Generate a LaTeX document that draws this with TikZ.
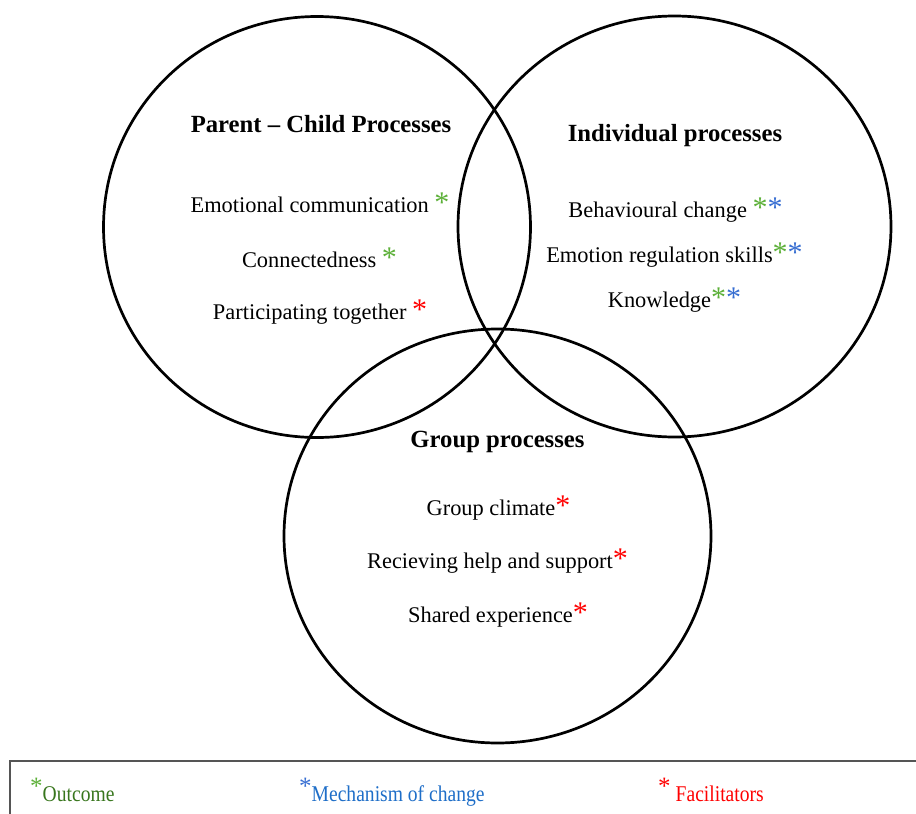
\documentclass[tikz,border=0pt]{standalone}
\usepackage{fontspec}
\setmainfont{Liberation Serif}
\usetikzlibrary{shapes.geometric}
\definecolor{astgreen}{RGB}{92,176,56}
\definecolor{astblue}{RGB}{55,110,210}
\definecolor{astred}{RGB}{255,0,0}
\definecolor{outgreen}{RGB}{56,118,29}
\definecolor{mechblue}{RGB}{30,110,200}
\definecolor{boxgray}{RGB}{85,85,85}
\newcommand{\astG}{{\fontsize{30}{30}\selectfont\textcolor{astgreen}{*}}}
\newcommand{\astB}{{\fontsize{30}{30}\selectfont\textcolor{astblue}{*}}}
\newcommand{\astR}{{\fontsize{30}{30}\selectfont\textcolor{astred}{*}}}
\newcommand{\legAst}[1]{\raisebox{6.5pt}{\fontsize{25}{25}\selectfont\textcolor{#1}{*}}}
\begin{document}
\begin{tikzpicture}[x=1pt,y=-1pt,
  ring/.style={draw=black, line width=2.7pt, ellipse, inner sep=0pt, outer sep=0pt},
  titletext/.style={anchor=base, inner sep=0pt, font=\fontsize{24.7}{28}\selectfont\bfseries},
  itemtext/.style={anchor=base, inner sep=0pt, font=\fontsize{22.4}{27}\selectfont},
  legendtext/.style={anchor=base west, inner sep=0pt, font=\fontsize{22.5}{27}\selectfont},
  legendbox/.style={draw=boxgray, line width=2pt}]
\useasboundingbox (0,0) rectangle (916,814);
\fill[white] (0,0) rectangle (916,814);

% circles
\node[ring, minimum width=427pt, minimum height=421pt] (pc) at (317,227) {};
\node[ring, minimum width=433pt, minimum height=421pt] (ind) at (674.5,226.5) {};
\node[ring, minimum width=427pt, minimum height=414pt] (grp) at (497.5,536) {};

% Parent-Child
\node[titletext] (pct) at (321,132) {Parent -- Child Processes};
\node[itemtext] (pc1) at (320,212) {Emotional communication \astG};
\node[itemtext] (pc2) at (319.5,267) {Connectedness \astG};
\node[itemtext] (pc3) at (320,319.5) {Participating together \astR};

% Individual
\node[titletext] (indt) at (675,141.5) {Individual processes};
\node[itemtext] (ind1) at (675.5,217) {Behavioural change \astG\astB};
\node[itemtext] (ind2) at (674.5,262) {Emotion regulation skills\astG\astB};
\node[itemtext] (ind3) at (674.5,307) {Knowledge\astG\astB};

% Group
\node[titletext] (grpt) at (497.5,447) {Group processes};
\node[itemtext] (grp1) at (498.5,515) {Group climate\astR};
\node[itemtext] (grp2) at (497.5,568) {Recieving help and support\astR};
\node[itemtext] (grp3) at (498,622) {Shared experience\astR};

% legend
\begin{scope}
\clip (0,0) rectangle (916,814);
\draw[legendbox] (10,761) rectangle (940,840);
\end{scope}
\node[legendtext] (lg1) at (30,801) {\legAst{astgreen}\scalebox{0.87}[1]{\textcolor{outgreen}{Outcome}}};
\node[legendtext] (lg2) at (299,801) {\legAst{astblue}\scalebox{0.87}[1]{\textcolor{mechblue}{Mechanism of change}}};
\node[legendtext] (lg3) at (658,801) {\legAst{astred}\hspace{5pt}\scalebox{0.87}[1]{\textcolor{astred}{Facilitators}}};
\end{tikzpicture}
\end{document}
